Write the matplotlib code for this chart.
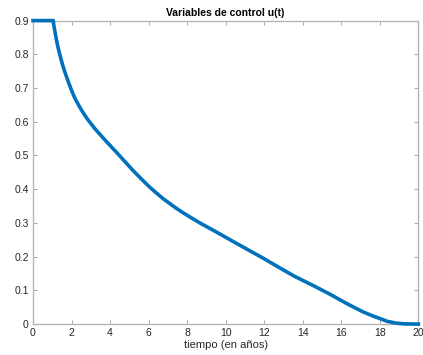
import matplotlib
matplotlib.use("Agg")
import matplotlib.pyplot as plt

# control u(t) over the 20-year horizon
t = [0, 1.05, 1.08, 1.14, 1.22, 1.31, 1.42, 1.54, 1.68, 1.83, 2.0, 2.18,
     2.39, 2.61, 2.8, 3.0, 3.22, 3.47, 3.8, 4.34, 4.77, 5.2, 5.63, 6.06, 6.4,
     6.75, 7.3, 7.79, 8.6, 9.52, 10.7, 11.93, 12.8, 13.6, 14.52, 15.4, 16.25,
     17.1, 17.6, 17.98, 18.4, 18.84, 19.3, 20.0]
u = [0.9, 0.9, 0.886, 0.867, 0.842, 0.818, 0.793, 0.768, 0.743, 0.719, 0.693,
     0.669, 0.647, 0.626, 0.610, 0.595, 0.579, 0.563, 0.542, 0.509, 0.482,
     0.455, 0.430, 0.406, 0.389, 0.372, 0.349, 0.330, 0.302, 0.273, 0.235,
     0.196, 0.167, 0.141, 0.115, 0.089, 0.062, 0.037, 0.025, 0.017, 0.008,
     0.003, 0.0007, 0.0]

xticks = list(range(0, 21, 2))
yticks = [0, 0.1, 0.2, 0.3, 0.4, 0.5, 0.6, 0.7, 0.8, 0.9]

plt.rcParams['font.family'] = ['Liberation Sans', 'DejaVu Sans']

fig = plt.figure(figsize=(4.23, 3.55), dpi=100)
ax = fig.add_axes([0.078, 0.087, 0.911, 0.855])

ax.plot(t, u, color='#0072BD', linewidth=2.6, solid_joinstyle='round',
        clip_on=False, zorder=3)

ax.set_xlim(0, 20)
ax.set_ylim(0, 0.9)
ax.set_xticks(xticks)
ax.set_yticks(yticks)
ax.set_yticklabels(['0', '0.1', '0.2', '0.3', '0.4', '0.5', '0.6', '0.7', '0.8', '0.9'])

ax.tick_params(direction='in', length=3, width=0.6, colors='#9a9a9a',
               labelcolor='#262626', labelsize=7.5, top=True, right=True, pad=3)
for s in ax.spines.values():
    s.set_color('#b5b5b5')
    s.set_linewidth(1.0)

ax.set_title('Variables de control u(t)', fontsize=7.5, fontweight='bold',
             color='#000000', pad=3)
ax.set_xlabel('tiempo (en años)', fontsize=8, color='#262626', labelpad=1)

fig.savefig('out.png', dpi=100, facecolor='white')
